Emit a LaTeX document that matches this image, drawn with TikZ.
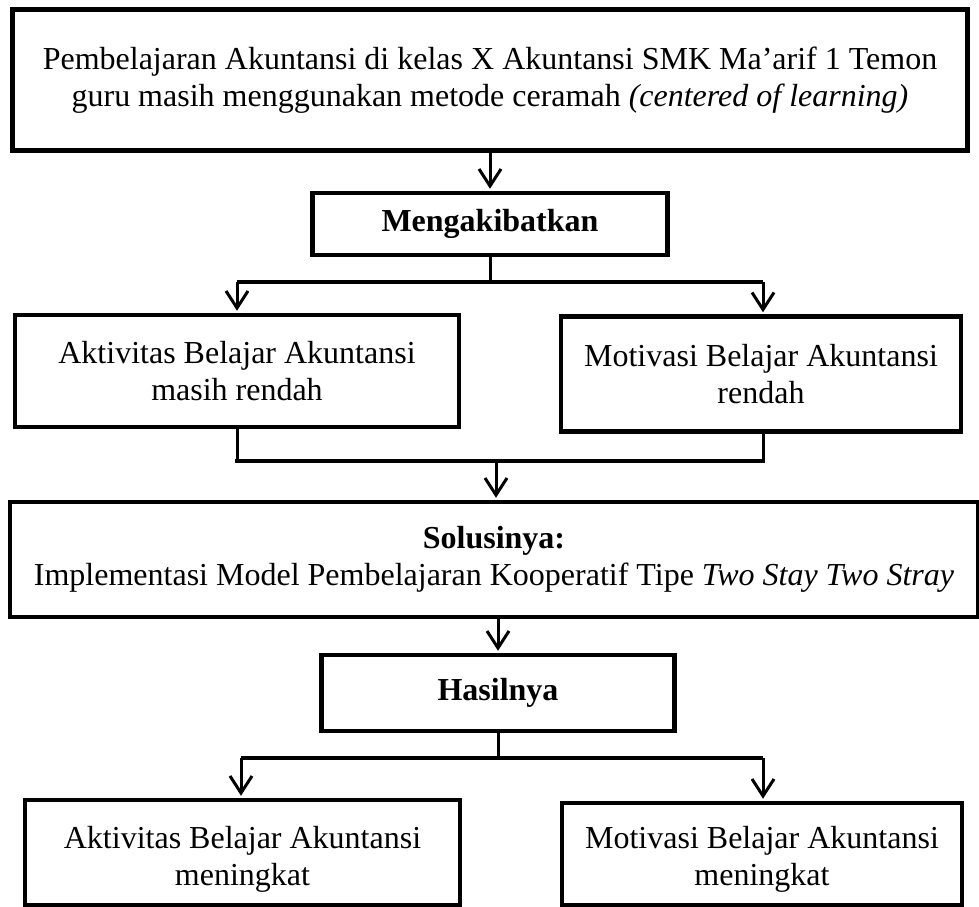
\documentclass[tikz,border=0pt]{standalone}
\usepackage{fontspec}
\setmainfont{Liberation Serif}
\usetikzlibrary{arrows.meta}
\begin{document}
\begin{tikzpicture}[x=1pt,y=-1pt,
  box/.style={draw=black, line width=4.5pt, rectangle, align=center, inner sep=0pt,
    font=\fontsize{32}{37}\selectfont},
  txt/.style={align=center, inner sep=0pt, font=\fontsize{32}{37}\selectfont},
  conn/.style={draw=black, line width=3pt},
  hline/.style={draw=black, line width=4pt},
  arr/.style={draw=black, line width=3pt, -{Straight Barb[length=17pt,width=22pt,line width=3pt]}, shorten >=2pt}
]
\useasboundingbox (0,0) rectangle (979,906);

\node[box, minimum width=955pt, minimum height=141pt] (top) at (490,80)
  {Pembelajaran Akuntansi di kelas X Akuntansi SMK Ma’arif 1 Temon\\
   guru masih menggunakan metode ceramah \textit{(centered of learning)}};
\node[box, minimum width=355pt, minimum height=62pt] (mk) at (490,224) {\textbf{Mengakibatkan}};
\node[box, minimum width=444pt, minimum height=112pt] (l1) at (237,371)
  {Aktivitas Belajar Akuntansi\\ masih rendah};
\node[box, minimum width=400pt, minimum height=115pt] (r1) at (761,374)
  {Motivasi Belajar Akuntansi\\ rendah};
\node[box, minimum width=968pt, minimum height=115pt] (sol) at (494,559.5)
  {\textbf{Solusinya:}\\ Implementasi Model Pembelajaran Kooperatif Tipe \textit{Two Stay Two Stray}};
\node[box, minimum width=353pt, minimum height=76pt] (has) at (498,693) {\textbf{Hasilnya}};
\node[box, minimum width=435pt, minimum height=105pt] (l2) at (242.5,852.5) {};
\node[txt] (l2t) at (242.5,859) {Aktivitas Belajar Akuntansi\\ meningkat};
\node[box, minimum width=400pt, minimum height=102pt] (r2) at (762,854) {};
\node[txt] (r2t) at (762,859) {Motivasi Belajar Akuntansi\\ meningkat};

% top -> mk
\draw[arr] (top.south) -- (mk.north);

% mk -> l1, r1
\coordinate (a1) at (237,282);
\coordinate (a2) at (763,282);
\draw[conn] (mk.south) -- (mk.south |- a1);
\draw[hline] (a1) -- (a2);
\draw[arr] (a1) -- (a1 |- l1.north);
\draw[arr] (a2) -- (a2 |- r1.north);

% l1, r1 -> sol
\coordinate (b1) at (237,461);
\coordinate (b2) at (763,461);
\coordinate (b3) at (496,461);
\draw[conn] (l1.south -| b1) -- (b1);
\draw[conn] (r1.south -| b2) -- (b2);
\draw[hline] ([xshift=-2pt]b1) -- ([xshift=2pt]b2);
\draw[arr] (b3) -- (b3 |- sol.north);

% sol -> has
\draw[arr] (has.north |- sol.south) -- (has.north);

% has -> l2, r2
\coordinate (c1) at (241,758);
\coordinate (c2) at (763,758);
\draw[conn] (has.south) -- (has.south |- c1);
\draw[hline] (c1) -- (c2);
\draw[arr] (c1) -- (c1 |- l2.north);
\draw[arr] (c2) -- (c2 |- r2.north);
\end{tikzpicture}
\end{document}
